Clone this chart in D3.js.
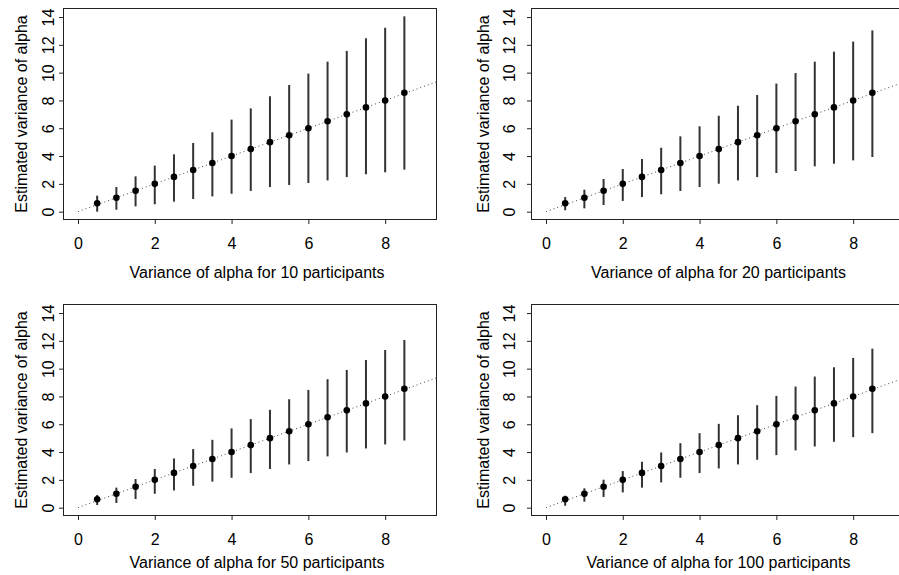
<!DOCTYPE html>
<html>
<head>
<meta charset="utf-8">
<script src="https://cdn.jsdelivr.net/npm/d3@7"></script>
<style>
  body { margin: 0; background: #fff; }
  svg { display: block; }
  text { font-family: "Liberation Sans", Arial, Helvetica, sans-serif; font-size: 16px; fill: #000; }
</style>
</head>
<body>
<svg id="chart" width="899" height="575"></svg>
<script>
// True variance of alpha (x positions of the estimates)
var trueVar = [0.5, 1, 1.5, 2, 2.5, 3, 3.5, 4, 4.5, 5, 5.5, 6, 6.5, 7, 7.5, 8, 8.5];

// Estimated variance (point) for each true value
var estimate = [0.6, 1, 1.5, 2, 2.5, 3, 3.5, 4, 4.5, 5, 5.5, 6, 6.5, 7, 7.5, 8, 8.55];

// Lower / upper ends of the bars, one pair per panel
var low10  = [0.0, 0.14, 0.38, 0.53, 0.72, 0.91, 1.1, 1.29, 1.49, 1.77, 1.92, 2.06, 2.25, 2.49, 2.69, 2.83, 3.02];
var high10 = [1.15, 1.77, 2.54, 3.31, 4.12, 4.94, 5.71, 6.62, 7.43, 8.3, 9.11, 9.93, 10.79, 11.56, 12.47, 13.23, 14.05];
var low20  = [0.1, 0.24, 0.48, 0.77, 1.05, 1.25, 1.49, 1.77, 2.01, 2.25, 2.49, 2.78, 2.92, 3.26, 3.45, 3.69, 3.93];
var high20 = [1.05, 1.58, 2.35, 3.07, 3.79, 4.6, 5.42, 6.14, 6.9, 7.62, 8.39, 9.21, 9.97, 10.79, 11.51, 12.23, 13.04];
var low50  = [0.19, 0.34, 0.62, 1.0, 1.24, 1.58, 1.87, 2.15, 2.49, 2.78, 3.11, 3.35, 3.69, 3.97, 4.26, 4.55, 4.83];
var high50 = [0.91, 1.44, 2.06, 2.78, 3.54, 4.21, 4.88, 5.7, 6.37, 7.04, 7.8, 8.47, 9.24, 9.91, 10.62, 11.34, 12.06];
var low100  = [0.14, 0.43, 0.77, 1.1, 1.44, 1.82, 2.15, 2.49, 2.82, 3.11, 3.45, 3.78, 4.12, 4.4, 4.74, 5.07, 5.36];
var high100 = [0.86, 1.39, 2.01, 2.63, 3.3, 3.97, 4.64, 5.36, 6.03, 6.65, 7.37, 8.04, 8.71, 9.43, 10.1, 10.77, 11.44];

var participants = [10, 20, 50, 100];
var lows = [low10, low20, low50, low100];
var highs = [high10, high20, high50, high100];

var xTicks = [0, 2, 4, 6, 8];
var yTicks = [0, 2, 4, 6, 8, 10, 12, 14];

// Layout
var boxW = 374, boxH = 212;
var colLeft = [63, 531];
var rowTop = [8, 304];
var yTickBase = [-9, -16];
var yTitleBase = [-36, -42];
var xTitleCenter = [194, 187.5];
var xTitleBase = [58, 52];

var svg = d3.select("#chart");

svg.append("defs").append("clipPath")
    .attr("id", "boxclip")
  .append("rect")
    .attr("width", boxW)
    .attr("height", boxH);

participants.forEach(function(n, i) {
    var col = i % 2, row = Math.floor(i / 2);

    var x = d3.scaleLinear().domain([-0.39, 9.35]).range([0, boxW]);
    var y = d3.scaleLinear().domain([-0.6, 14.65]).range([boxH, 0]);

    var g = svg.append("g")
        .attr("transform", "translate(" + colLeft[col] + "," + rowTop[row] + ")");

    var rows = trueVar.map(function(v, j) {
        return {x: v, est: estimate[j], lo: lows[i][j], hi: highs[i][j]};
    });

    var plot = g.append("g").attr("clip-path", "url(#boxclip)");

    // y = x reference line
    plot.append("line")
        .attr("x1", x(0)).attr("y1", y(0))
        .attr("x2", x(9.35)).attr("y2", y(9.35))
        .attr("stroke", "#444")
        .attr("stroke-width", 1)
        .attr("stroke-dasharray", "1,3");

    // Error bars
    plot.selectAll(".bar")
        .data(rows)
        .enter().append("line")
            .attr("class", "bar")
            .attr("x1", function(d) { return x(d.x); })
            .attr("x2", function(d) { return x(d.x); })
            .attr("y1", function(d) { return y(d.lo); })
            .attr("y2", function(d) { return y(d.hi); })
            .attr("stroke", "#333")
            .attr("stroke-width", 2);

    // Points
    plot.selectAll(".pt")
        .data(rows)
        .enter().append("circle")
            .attr("class", "pt")
            .attr("cx", function(d) { return x(d.x); })
            .attr("cy", function(d) { return y(d.est); })
            .attr("r", 3.3)
            .attr("fill", "#000");

    // Box
    g.append("rect")
        .attr("x", 0.5).attr("y", 0.5)
        .attr("width", boxW - 1).attr("height", boxH - 1)
        .attr("fill", "none")
        .attr("stroke", "#222")
        .attr("stroke-width", 1);

    // X axis
    var xa = g.append("g")
        .attr("transform", "translate(0," + boxH + ")")
        .call(d3.axisBottom(x).tickValues(xTicks).tickSize(4).tickFormat(d3.format("d")));
    xa.select(".domain").remove();
    xa.selectAll("line").attr("stroke", "#222");
    xa.selectAll("text")
        .attr("dy", null)
        .attr("y", 28.5)
        .style("font-size", "16px")
        .style("font-family", "Liberation Sans, Arial, sans-serif");

    // Y axis with rotated labels
    var ya = g.append("g")
        .call(d3.axisLeft(y).tickValues(yTicks).tickSize(4).tickFormat(d3.format("d")));
    ya.select(".domain").remove();
    ya.selectAll("line").attr("stroke", "#222");
    ya.selectAll("text")
        .attr("x", 0)
        .attr("dy", null)
        .attr("y", yTickBase[col])
        .attr("transform", "rotate(-90)")
        .attr("text-anchor", "middle")
        .style("font-size", "16px")
        .style("font-family", "Liberation Sans, Arial, sans-serif");

    // Titles
    g.append("text")
        .attr("x", xTitleCenter[col])
        .attr("y", boxH + xTitleBase[row])
        .attr("text-anchor", "middle")
        .text("Variance of alpha for " + n + " participants");

    g.append("text")
        .attr("transform", "rotate(-90)")
        .attr("x", -boxH / 2)
        .attr("y", yTitleBase[col])
        .attr("text-anchor", "middle")
        .text("Estimated variance of alpha");
});
</script>
</body>
</html>
